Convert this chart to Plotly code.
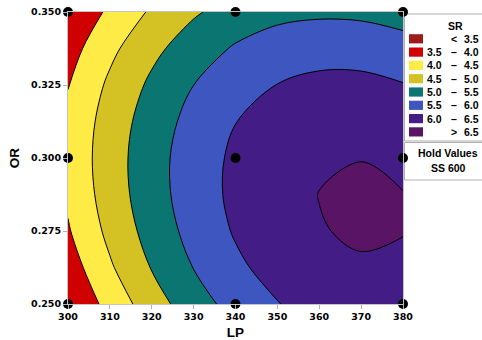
import plotly.graph_objects as go

# ---- data ----
LP = [300, 310, 320, 330, 340, 350, 360, 370, 380]
OR = [0.25, 0.2625, 0.275, 0.2875, 0.30, 0.3125, 0.325, 0.3375, 0.35]
# SR estimated on the LP x OR grid (rows = OR values, columns = LP values)
SR = [
    [3.52, 4.169, 4.773, 5.276, 5.685, 5.984, 6.188, 6.291, 6.295],
    [3.750, 4.438, 5.025, 5.512, 5.905, 6.186, 6.374, 6.461, 6.448],
    [3.956, 4.627, 5.198, 5.670, 6.045, 6.309, 6.480, 6.551, 6.510],
    [4.083, 4.737, 5.291, 5.750, 6.109, 6.353, 6.507, 6.561, 6.508],
    [4.130, 4.768, 5.305, 5.750, 6.090, 6.318, 6.455, 6.493, 6.430],
    [4.098, 4.719, 5.240, 5.665, 5.992, 6.203, 6.324, 6.344, 6.265],
    [3.986, 4.591, 5.095, 5.499, 5.810, 6.008, 6.113, 6.117, 6.021],
    [3.795, 4.383, 4.871, 5.259, 5.550, 5.734, 5.822, 5.810, 5.698],
    [3.525, 4.096, 4.568, 4.939, 5.210, 5.370, 5.420, 5.400, 5.295],
]
# design points
PT_LP = [300, 300, 300, 340, 340, 340, 380, 380, 380]
PT_OR = [0.25, 0.30, 0.35, 0.25, 0.30, 0.35, 0.25, 0.30, 0.35]

LEVEL_START, LEVEL_END, LEVEL_SIZE = 3.5, 6.5, 0.5
BAND_LABELS = [("", "<", "3.5"), ("3.5", "\u2013", "4.0"), ("4.0", "\u2013", "4.5"),
               ("4.5", "\u2013", "5.0"), ("5.0", "\u2013", "5.5"), ("5.5", "\u2013", "6.0"),
               ("6.0", "\u2013", "6.5"), ("", ">", "6.5")]
BAND_COLORS = ["#9C1A1C", "#D10000", "#FFEB46", "#D4C124",
               "#0B7571", "#3E56C0", "#431C85", "#591466"]

# stepped colour scale: one equal segment per band
n = len(BAND_COLORS)
cscale = []
for i, c in enumerate(BAND_COLORS):
    cscale.append([i / n, c])
    cscale.append([(i + 1) / n, c])

fig = go.Figure()
fig.add_trace(go.Contour(
    x=LP, y=OR, z=SR,
    colorscale=cscale, showscale=False,
    contours=dict(start=LEVEL_START, end=LEVEL_END, size=LEVEL_SIZE,
                  coloring="fill", showlabels=False),
    line=dict(color="black", width=1, smoothing=1.0),
    hoverinfo="skip",
))
fig.add_trace(go.Scatter(
    x=PT_LP, y=PT_OR, mode="markers",
    marker=dict(color="black", size=10),
    cliponaxis=False, hoverinfo="skip", showlegend=False,
))

# plot-area pixel geometry
L, R, T, B = 68, 403, 12, 304
W, H = 482, 340


def px(x):
    return (x - L) / (R - L)


def py(y):
    return (B - y) / (B - T)


tickfont = dict(family="DejaVu Sans", size=9.5, color="black", weight="bold")
legfont = dict(family="Liberation Sans", size=10.5, color="black", weight="bold")

shapes = []
annos = []
# legend box
shapes.append(dict(type="rect", xref="paper", yref="paper",
                   x0=px(404.5), x1=px(486), y0=py(14), y1=py(141),
                   line=dict(color="#AFAFAF", width=1), fillcolor="white", layer="below"))
annos.append(dict(text="SR", x=px(455), y=py(25.5), xref="paper", yref="paper",
                  showarrow=False, font=legfont, xanchor="center", yanchor="middle"))
for i, (lo, mid, hi) in enumerate(BAND_LABELS):
    cy = 38.8 + 13.3 * i
    shapes.append(dict(type="rect", xref="paper", yref="paper",
                       x0=px(409), x1=px(423), y0=py(cy + 4.6), y1=py(cy - 4.6),
                       line=dict(width=0), fillcolor=BAND_COLORS[i]))
    if lo:
        annos.append(dict(text=lo, x=px(443.5), y=py(cy), xref="paper", yref="paper",
                          showarrow=False, font=legfont, xanchor="right", yanchor="middle"))
    annos.append(dict(text=mid, x=px(453.5), y=py(cy), xref="paper", yref="paper",
                      showarrow=False, font=legfont, xanchor="center", yanchor="middle"))
    annos.append(dict(text=hi, x=px(481), y=py(cy), xref="paper", yref="paper",
                      showarrow=False, font=legfont, xanchor="right", yanchor="middle"))
# hold values box
shapes.append(dict(type="rect", xref="paper", yref="paper",
                   x0=px(404.5), x1=px(486), y0=py(142.5), y1=py(180),
                   line=dict(color="#AFAFAF", width=1), fillcolor="white", layer="below"))
annos.append(dict(text="Hold Values", x=px(448), y=py(153), xref="paper", yref="paper",
                  showarrow=False, font=legfont, xanchor="center", yanchor="middle"))
annos.append(dict(text="SS 600", x=px(448), y=py(168), xref="paper", yref="paper",
                  showarrow=False, font=legfont, xanchor="center", yanchor="middle"))

axcommon = dict(showgrid=False, zeroline=False, showline=True, linecolor="#C4C4C4",
                linewidth=1, mirror=True, ticks="outside", ticklen=4, automargin=False,
                tickcolor="#B0B0B0", tickfont=tickfont)

titlefont = dict(family="Liberation Sans", size=13.5, color="black", weight="bold")
fig.update_layout(
    width=W, height=H,
    margin=dict(l=L, r=W - R, t=T, b=H - B, pad=0),
    paper_bgcolor="white", plot_bgcolor="white",
    showlegend=False,
    xaxis=dict(range=[300, 380], tickvals=LP, **axcommon,
               title=dict(text="LP", standoff=8, font=titlefont)),
    yaxis=dict(range=[0.25, 0.35], tickvals=[0.25, 0.275, 0.30, 0.325, 0.35],
               tickformat=".3f", **axcommon,
               title=dict(text="OR", standoff=8, font=titlefont)),
    shapes=shapes, annotations=annos,
)

fig.write_html("out.html")
